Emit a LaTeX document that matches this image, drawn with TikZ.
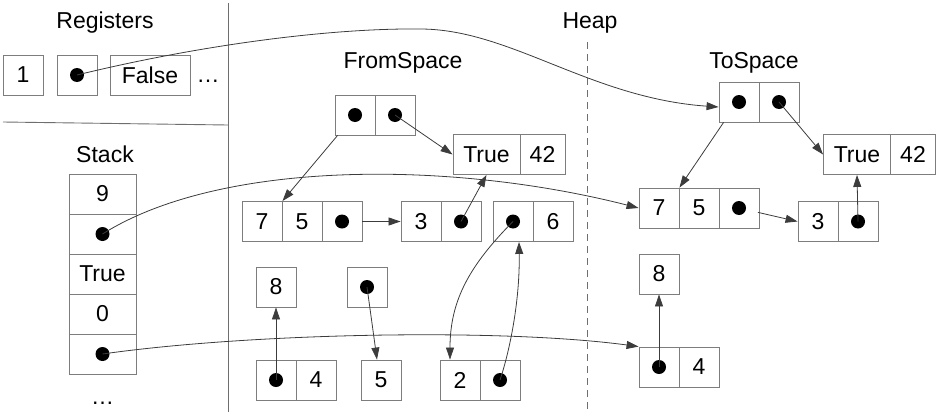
\documentclass[tikz,border=0pt]{standalone}
\usepackage{fontspec}
\setmainfont{Liberation Sans}
\usetikzlibrary{arrows.meta,calc}
\definecolor{boxgray}{RGB}{125,125,125}
\definecolor{linegray}{RGB}{60,60,60}
\definecolor{sepgray}{RGB}{110,110,110}
\begin{document}
\begin{tikzpicture}[x=1pt,y=-1pt,
  font=\fontsize{23}{27}\selectfont,
  cell/.style={draw=boxgray, line width=0.9pt, fill=white, minimum width=40pt,
    minimum height=40pt, inner sep=0pt, anchor=center},
  widecell/.style={cell, minimum width=67pt},
  numcell/.style={cell, minimum width=45pt},
  pointer/.style={path picture={\fill[black] (path picture bounding box.center) circle[radius=7pt];}},
  dotcell/.style={cell, pointer},
  lbl/.style={anchor=base, inner sep=0pt},
  link/.style={draw=linegray, line width=0.8pt, -{Triangle[length=12pt,width=8pt]}},
  sep/.style={draw=sepgray, line width=0.9pt}]
\useasboundingbox (0,0) rectangle (936,415);

% section separators
\draw[sep] (228,3) -- (228,412);
\draw[sep] (3,122) -- (228,125);
\draw[sep, dash pattern=on 7pt off 5pt] (587,42) -- (587,412);

% titles
\node[lbl] (tReg) at (105,28) {Registers};
\node[lbl] (tStack) at (105,162) {Stack};
\node[lbl] (tHeap) at (590,28) {Heap};
\node[lbl] (tFrom) at (403,68) {FromSpace};
\node[lbl] (tTo) at (754,68) {ToSpace};

% registers
\node[cell] (r1) at (23,75) {1};
\node[dotcell] (r2) at (77,75) {};
\node[cell, minimum width=80pt] (r3) at (150,75) {False};
\node[lbl] (rdots) at (208,82) {…};

% stack
\node[widecell] (s1) at (102.5,194) {9};
\node[widecell, pointer] (s2) at (102.5,234) {};
\node[widecell] (s3) at (102.5,274) {True};
\node[widecell] (s4) at (102.5,314) {0};
\node[widecell, pointer] (s5) at (102.5,354) {};
\node[lbl] (sdots) at (102.5,404) {…};

% from-space objects
\node[dotcell] (fa) at (355,115) {};
\node[dotcell] (fb) at (395,115) {};
\node[widecell] (fT) at (486.5,154.5) {True};
\node[numcell] (f42) at (542.5,154.5) {42};
\node[cell] (f7) at (262,221.5) {7};
\node[cell] (f5) at (302,221.5) {5};
\node[dotcell] (fq) at (342,221.5) {};
\node[cell] (f3) at (421,221.5) {3};
\node[dotcell] (f3q) at (461,221.5) {};
\node[dotcell] (f6q) at (513,221.5) {};
\node[cell] (f6) at (553,221.5) {6};
\node[cell] (f8) at (276,287) {8};
\node[dotcell] (fr) at (367,287) {};
\node[dotcell] (f4q) at (276,380) {};
\node[cell] (f4) at (316,380) {4};
\node[cell] (f5b) at (381,380) {5};
\node[cell] (f2) at (460,380) {2};
\node[dotcell] (f2q) at (500,380) {};

% to-space objects
\node[dotcell] (ta) at (739,102) {};
\node[dotcell] (tb) at (779,102) {};
\node[widecell] (tT) at (857,154.5) {True};
\node[numcell] (t42) at (913,154.5) {42};
\node[cell] (t7) at (659,208) {7};
\node[cell] (t5) at (699,208) {5};
\node[dotcell] (tq) at (739,208) {};
\node[cell] (t3) at (818,221.5) {3};
\node[dotcell] (t3q) at (858,221.5) {};
\node[cell] (t8) at (659,274) {8};
\node[dotcell] (t4q) at (659,367) {};
\node[cell] (t4) at (699,367) {4};

% roots into to-space
\draw[link] (r2.center) .. controls (200,45) and (330,28) .. (420,29)
  .. controls (510,29) and (590,98) .. ($(ta.west)+(0,5)$);
\draw[link] (s2.center) .. controls (220,160) and (450,160) .. (t7.west);
\draw[link] (s5.center) .. controls (250,333) and (500,328) .. (t4q.north west);

% from-space pointers
\draw[link] ($(fa.south west)+(3,0)$) -- (f7.north east);
\draw[link] (fb.center) -- (fT.west);
\draw[link, shorten <=20pt] (fq.center) -- (f3.west);
\draw[link] (f3q.center) -- (fT.south);
\draw[link] (f6q.center) .. controls (470,265) and (450,300) .. ($(f2.north)+(-10,0)$);
\draw[link] (f2q.center) .. controls (510,350) and (520,300) .. ($(f6q.south)+(6,0)$);
\draw[link] (f4q.center) -- (f8.south);
\draw[link] (fr.center) -- ($(f5b.north)+(-4,0)$);

% to-space pointers
\draw[link] ($(ta.south west)+(5,0)$) -- (t7.north east);
\draw[link] (tb.center) -- (tT.west);
\draw[link, shorten <=19.5pt] (tq.center) -- (t3.west);
\draw[link] (t3q.center) -- (tT.south);
\draw[link] (t4q.center) -- (t8.south);
\end{tikzpicture}
\end{document}
